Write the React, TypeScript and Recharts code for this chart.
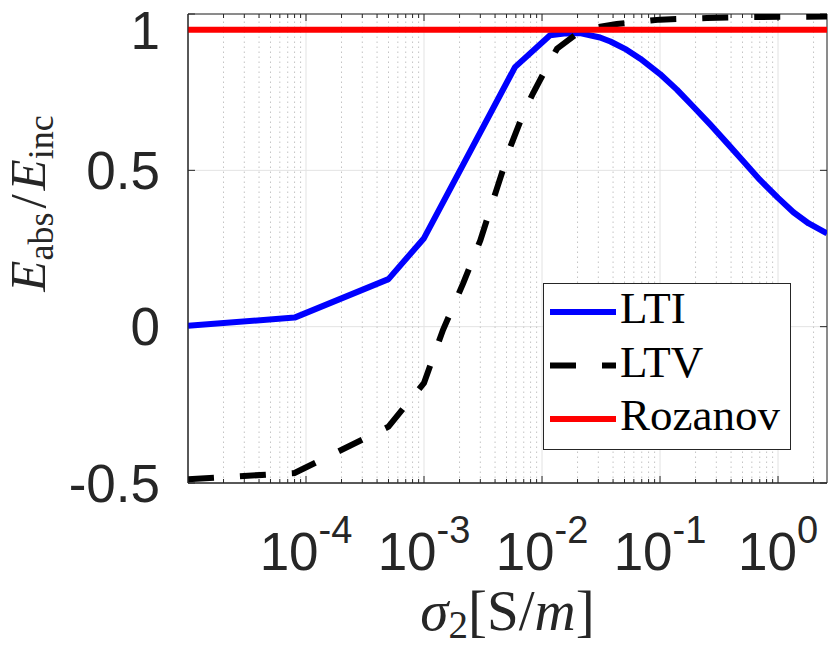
import { LineChart, Line, XAxis, YAxis, CartesianGrid, ReferenceLine, ReferenceArea, Legend, Label } from 'recharts'

// sigma_2 [S/m] vs absorbed / incident energy, log x axis

const X_MIN = 1e-5
const X_MAX = 2.6
const Y_MIN = -0.5
const Y_MAX = 1

const majorTicks = [1e-4, 1e-3, 1e-2, 1e-1, 1]
const yTicks = [-0.5, 0, 0.5, 1]
const decades = [1e-5, 1e-4, 1e-3, 1e-2, 1e-1, 1]
const minorSteps = [2, 3, 4, 5, 6, 7, 8, 9]

const ltiSigma = [1e-5, 8e-5, 5e-4, 1e-3, 5.9e-3, 0.0117, 0.016, 0.021, 0.031, 0.038, 0.052, 0.068, 0.1, 0.139, 0.19, 0.267, 0.37, 0.51, 0.7, 1.0, 1.35, 1.82, 2.6]
const ltiRatio = [0.003, 0.029, 0.152, 0.283, 0.83, 0.932, 0.938, 0.939, 0.925, 0.912, 0.886, 0.857, 0.808, 0.758, 0.705, 0.646, 0.587, 0.528, 0.47, 0.412, 0.366, 0.33, 0.298]

const ltvSigma = [1e-5, 8e-5, 5e-4, 1e-3, 1.45e-3, 2.15e-3, 3e-3, 4.1e-3, 5.45e-3, 6.75e-3, 8.35e-3, 0.0106, 0.0134, 0.0197, 0.03, 0.043, 0.1, 0.25, 0.56, 2.6]
const ltvRatio = [-0.488, -0.468, -0.32, -0.18, -0.01, 0.139, 0.276, 0.436, 0.58, 0.67, 0.745, 0.819, 0.889, 0.937, 0.958, 0.968, 0.982, 0.987, 0.99, 0.992]

const rozSigma = [X_MIN, X_MAX]
const rozRatio = [0.95, 0.95]

const ltiData = ltiSigma.map((x, i) => ({ x, y: ltiRatio[i] }))
const ltvData = ltvSigma.map((x, i) => ({ x, y: ltvRatio[i] }))
const rozData = rozSigma.map((x, i) => ({ x, y: rozRatio[i] }))

const minorTicks = decades.flatMap((d) => minorSteps.map((m) => m * d)).filter((v) => v < X_MAX)

const AXIS = '#262626'
const SANS = '"Liberation Sans", Arial, Helvetica, sans-serif'
const SERIF = '"Liberation Serif", "DejaVu Serif", serif'

// inward tick lengths in data units (major ~7px, minor ~4px)
const yTickLen = { major: 0.0224, minor: 0.0128 }
const xTickFactor = 1.1465

function XTick({ x, y, payload }: any) {
  const exp = Math.round(Math.log10(payload.value))
  return (
    <text x={x} y={y + 87} textAnchor="middle" fill={AXIS} style={{ fontFamily: SANS, fontSize: 53 }}>
      <tspan>10</tspan>
      <tspan dy={-27} style={{ fontSize: 38 }}>{String(exp)}</tspan>
    </text>
  )
}

function YLabel({ viewBox }: any) {
  const cx = viewBox.x + 45
  const cy = viewBox.y + viewBox.height / 2 - 45
  return (
    <text transform={`translate(${cx}, ${cy}) rotate(-90)`} textAnchor="middle" fill={AXIS} style={{ fontFamily: SERIF, fontSize: 51 }}>
      <tspan fontStyle="italic">E</tspan>
      <tspan style={{ fontSize: 36 }} dy={8}>abs</tspan>
      <tspan dy={-8} dx={4}>/</tspan>
      <tspan fontStyle="italic" dx={4}>E</tspan>
      <tspan style={{ fontSize: 36 }} dy={8}>inc</tspan>
    </text>
  )
}

function XLabel({ viewBox }: any) {
  const cx = viewBox.x + viewBox.width / 2
  const by = viewBox.y + 147
  return (
    <text x={cx} y={by} textAnchor="middle" fill={AXIS} style={{ fontFamily: SERIF, fontSize: 57 }}>
      <tspan fontStyle="italic">σ</tspan>
      <tspan style={{ fontSize: 39 }} dy={8}>2</tspan>
      <tspan dy={-8}>[S/</tspan>
      <tspan fontStyle="italic">m</tspan>
      <tspan>]</tspan>
    </text>
  )
}

function LegendBox({ payload }: any) {
  const rows = payload || []
  return (
    <svg width={248} height={167} style={{ display: 'block' }}>
      <rect x={0.5} y={0.5} width={247} height={166} fill="#fff" stroke={AXIS} strokeWidth={1} />
      {rows.map((entry: any, i: number) => {
        const ly = 29 + i * 53.5
        return (
          <g key={entry.value}>
            <line
              x1={7}
              x2={73}
              y1={ly}
              y2={ly}
              stroke={entry.color}
              strokeWidth={6}
              strokeDasharray={entry.payload?.strokeDasharray}
            />
            <text x={77} y={ly + 11} fill="#000" style={{ fontFamily: SERIF, fontSize: 45 }}>
              {entry.value}
            </text>
          </g>
        )
      })}
    </svg>
  )
}

export default function App() {
  return (
    <div style={{ position: 'absolute', left: 0, top: 0, background: '#fff' }}>
      <LineChart width={830} height={647} margin={{ top: 14, right: 3, bottom: 0, left: 0 }}>
        <CartesianGrid stroke="#e3e3e3" strokeWidth={1} />
        {minorTicks.map((v) => (
          <ReferenceLine key={'g' + v} x={v} stroke="#c4c4c4" strokeWidth={1} strokeDasharray="1.5 3.5" />
        ))}
        <XAxis
          dataKey="x"
          type="number"
          scale="log"
          domain={[X_MIN, X_MAX]}
          allowDataOverflow
          ticks={majorTicks}
          tick={<XTick />}
          tickLine={false}
          tickSize={0}
          tickMargin={0}
          height={164}
          axisLine={{ stroke: AXIS, strokeWidth: 1 }}
        >
          <Label content={<XLabel />} />
        </XAxis>
        <YAxis
          type="number"
          domain={[Y_MIN, Y_MAX]}
          allowDataOverflow
          ticks={yTicks}
          tickLine={false}
          tickSize={0}
          tickMargin={28}
          width={188}
          axisLine={{ stroke: AXIS, strokeWidth: 1 }}
          tick={{ fill: AXIS, fontSize: 53, fontFamily: SANS }}
        >
          <Label content={<YLabel />} />
        </YAxis>
        {majorTicks.concat(minorTicks).map((v) => {
          const len = majorTicks.includes(v) ? yTickLen.major : yTickLen.minor
          return [
            <ReferenceLine key={'b' + v} segment={[{ x: v, y: Y_MIN }, { x: v, y: Y_MIN + len }]} stroke={AXIS} strokeWidth={1} />,
            <ReferenceLine key={'t' + v} segment={[{ x: v, y: Y_MAX }, { x: v, y: Y_MAX - len }]} stroke={AXIS} strokeWidth={1} />,
          ]
        })}
        {yTicks.map((v) => [
          <ReferenceLine key={'l' + v} segment={[{ x: X_MIN, y: v }, { x: X_MIN * xTickFactor, y: v }]} stroke={AXIS} strokeWidth={1} />,
          <ReferenceLine key={'r' + v} segment={[{ x: X_MAX / xTickFactor, y: v }, { x: X_MAX, y: v }]} stroke={AXIS} strokeWidth={1} />,
        ])}
        <ReferenceArea x1={X_MIN} x2={X_MAX} y1={Y_MIN} y2={Y_MAX} fill="none" stroke={AXIS} strokeWidth={1} />
        <Line
          data={ltiData}
          dataKey="y"
          name="LTI"
          type="linear"
          stroke="#0000ff"
          strokeWidth={6}
          strokeLinejoin="round"
          dot={false}
          isAnimationActive={false}
        />
        <Line
          data={ltvData}
          dataKey="y"
          name="LTV"
          type="linear"
          stroke="#000000"
          strokeWidth={6}
          strokeDasharray="26 26"
          dot={false}
          isAnimationActive={false}
        />
        <Line
          data={rozData}
          dataKey="y"
          name="Rozanov"
          type="linear"
          stroke="#ff0000"
          strokeWidth={6}
          dot={false}
          isAnimationActive={false}
        />
        <Legend
          layout="vertical"
          align="center"
          verticalAlign="middle"
          content={<LegendBox />}
          wrapperStyle={{ left: 543, top: 283, width: 248, height: 167 }}
        />
      </LineChart>
    </div>
  )
}
